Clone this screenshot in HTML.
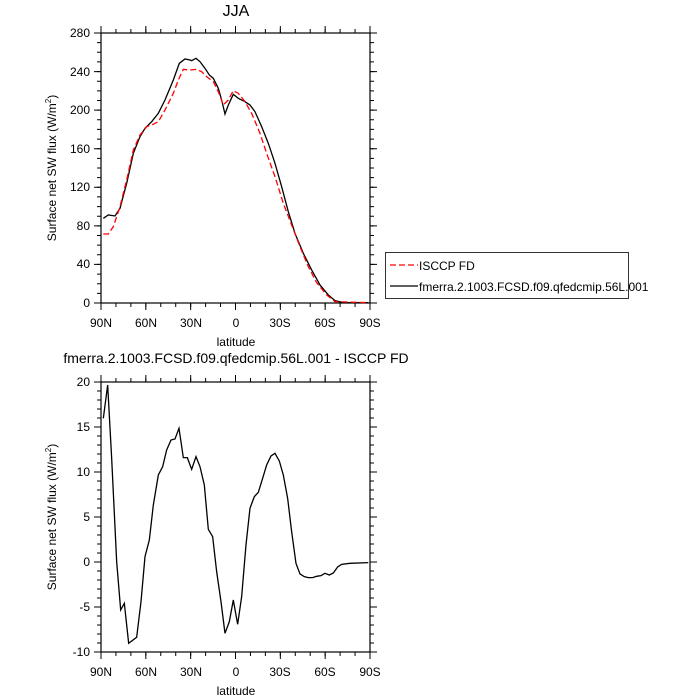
<!DOCTYPE html>
<html><head><meta charset="utf-8"><style>
body{margin:0;background:#fff}
svg{display:block}
text{font-family:"Liberation Sans",sans-serif;fill:#000}
</style></head><body>
<svg width="700" height="700" viewBox="0 0 700 700" xmlns="http://www.w3.org/2000/svg">
<text x="236" y="16" font-size="16" text-anchor="middle">JJA</text>
<!-- top plot -->
<g stroke="#000" fill="none">
<rect x="101" y="33" width="269" height="270" stroke-width="1.2"/>
<!-- x minor ticks -->
<path d="M100.5 305 H371" stroke-width="4" stroke-dasharray="1 13.944"/>
<path d="M100.5 31 H371" stroke-width="4" stroke-dasharray="1 13.944"/>
<path d="M100.5 306.5 H371" stroke-width="7" stroke-dasharray="1 43.833"/>
<path d="M100.5 29.5 H371" stroke-width="7" stroke-dasharray="1 43.833"/>
<path d="M99 303.5 V32" stroke-width="4" stroke-dasharray="1 8.643"/>
<path d="M372 303.5 V32" stroke-width="4" stroke-dasharray="1 8.643"/>
<path d="M97.5 303.5 V32" stroke-width="7" stroke-dasharray="1 37.571"/>
<path d="M373.5 303.5 V32" stroke-width="7" stroke-dasharray="1 37.571"/>
</g>
<g transform="translate(90,30) scale(0.3333)" fill="none">
<polyline vector-effect="non-scaling-stroke" stroke="#000" stroke-width="1.3" points="40,565 55,555 75,558 90,535 110,460 130,370 150,320 165,295 185,275 205,250 225,210 250,150 268,100 285,87 300,90 305,92 318,85 330,95 345,115 358,135 370,145 385,175 395,210 405,252 415,225 430,193 445,205 465,215 480,225 495,245 515,290 535,340 555,400 575,470 595,545 615,610 640,670 665,720 690,765 715,795 735,812 760,818 835,818"/>
<polyline vector-effect="non-scaling-stroke" stroke="#f00" stroke-width="1.3" stroke-dasharray="6 3" points="40,612 55,612 70,590 90,530 110,450 130,360 150,315 170,290 185,285 205,275 225,240 250,190 265,150 280,118 300,120 320,118 335,125 350,140 370,155 385,185 400,225 415,210 430,182 445,190 465,215 485,250 510,310 530,370 555,440 580,520 605,585 630,650 655,710 680,758 710,795 735,815 835,818"/>
</g>
<g font-size="12" text-anchor="end">
<text x="90" y="307">0</text><text x="90" y="268">40</text><text x="90" y="230">80</text>
<text x="90" y="191">120</text><text x="90" y="153">160</text><text x="90" y="114">200</text>
<text x="90" y="76">240</text><text x="90" y="37">280</text>
</g>
<g font-size="12" text-anchor="middle">
<text x="101" y="327">90N</text><text x="146" y="327">60N</text><text x="191" y="327">30N</text>
<text x="236" y="327">0</text><text x="280" y="327">30S</text><text x="325" y="327">60S</text><text x="370" y="327">90S</text>
<text x="236" y="346">latitude</text>
</g>
<text transform="translate(56,168) rotate(-90)" font-size="12" text-anchor="middle">Surface net SW flux (W/m<tspan font-size="8" dy="-5">2</tspan><tspan dy="5">)</tspan></text>
<!-- legend -->
<rect x="385.5" y="252.5" width="243" height="46" fill="none" stroke="#000" stroke-width="0.8"/>
<line x1="390" y1="265" x2="418" y2="265" stroke="#f00" stroke-width="1.3" stroke-dasharray="6 3"/>
<line x1="390" y1="286" x2="418" y2="286" stroke="#000" stroke-width="1.3"/>
<text x="419" y="270" font-size="12">ISCCP FD</text>
<text x="419" y="291" font-size="12">fmerra.2.1003.FCSD.f09.qfedcmip.56L.001</text>
<!-- bottom plot -->
<text x="236" y="363" font-size="14" text-anchor="middle">fmerra.2.1003.FCSD.f09.qfedcmip.56L.001 - ISCCP FD</text>
<g stroke="#000" fill="none">
<rect x="101" y="382" width="269" height="270" stroke-width="1.2"/>
<path d="M100.5 654 H371" stroke-width="4" stroke-dasharray="1 13.944"/>
<path d="M100.5 380 H371" stroke-width="4" stroke-dasharray="1 13.944"/>
<path d="M100.5 655.5 H371" stroke-width="7" stroke-dasharray="1 43.833"/>
<path d="M100.5 378.5 H371" stroke-width="7" stroke-dasharray="1 43.833"/>
<path d="M99 652.5 V381" stroke-width="4" stroke-dasharray="1 8"/>
<path d="M372 652.5 V381" stroke-width="4" stroke-dasharray="1 8"/>
<path d="M97.5 652.5 V381" stroke-width="7" stroke-dasharray="1 44"/>
<path d="M373.5 652.5 V381" stroke-width="7" stroke-dasharray="1 44"/>
</g>
<g transform="translate(90,375) scale(0.3333)" fill="none">
<polyline vector-effect="non-scaling-stroke" stroke="#000" stroke-width="1.3" points="40,130 53,30 65,250 80,560 92,705 103,685 116,805 140,787 153,680 165,545 178,495 190,390 205,300 218,275 230,225 243,195 255,192 267,160 280,248 292,248 305,283 318,245 330,275 343,330 355,463 368,485 380,590 393,680 405,775 418,740 430,675 443,748 455,665 468,510 480,400 493,365 505,352 518,310 530,270 543,243 555,235 568,258 580,300 593,370 605,470 618,565 630,597 643,605 655,608 668,608 680,604 693,602 705,595 718,600 730,594 743,576 755,568 780,565 835,563"/>
</g>
<g font-size="12" text-anchor="end">
<text x="90" y="656">-10</text><text x="90" y="611">-5</text><text x="90" y="566">0</text>
<text x="90" y="521">5</text><text x="90" y="476">10</text><text x="90" y="431">15</text><text x="90" y="386">20</text>
</g>
<g font-size="12" text-anchor="middle">
<text x="101" y="676">90N</text><text x="146" y="676">60N</text><text x="191" y="676">30N</text>
<text x="236" y="676">0</text><text x="280" y="676">30S</text><text x="325" y="676">60S</text><text x="370" y="676">90S</text>
<text x="236" y="695">latitude</text>
</g>
<text transform="translate(56,517) rotate(-90)" font-size="12" text-anchor="middle">Surface net SW flux (W/m<tspan font-size="8" dy="-5">2</tspan><tspan dy="5">)</tspan></text>
</svg>
</body></html>
